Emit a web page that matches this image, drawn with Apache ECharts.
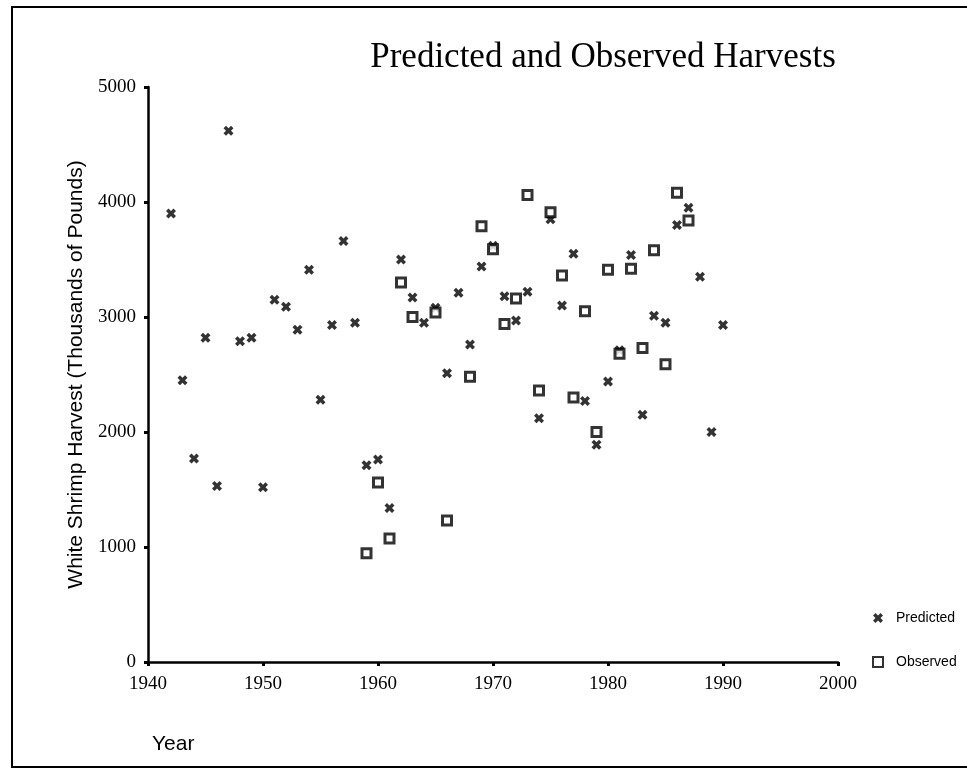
<!DOCTYPE html>
<html>
<head>
<meta charset="utf-8">
<script src="https://cdn.jsdelivr.net/npm/echarts@6/dist/echarts.min.js"></script>
<style>html,body{margin:0;padding:0;background:#fff}#c{width:967px;height:772px}</style>
</head>
<body>
<div id="c"></div>
<script>
const predYears = [1942,1943,1944,1945,1946,1947,1948,1949,1950,1951,1952,1953,1954,1955,1956,1957,1958,1959,1960,1961,1962,1963,1964,1965,1966,1967,1968,1969,1970,1971,1972,1973,1974,1975,1976,1977,1978,1979,1980,1981,1982,1983,1984,1985,1986,1987,1988,1989,1990];
const predValues = [3900,2450,1770,2820,1530,4620,2790,2820,1520,3150,3090,2890,3410,2280,2930,3660,2950,1710,1760,1340,3500,3170,2950,3080,2510,3210,2760,3440,3620,3180,2970,3220,2120,3850,3100,3550,2270,1890,2440,2710,3540,2150,3010,2950,3800,3950,3350,2000,2930];
const obsYears = [1959,1960,1961,1962,1963,1965,1966,1968,1969,1970,1971,1972,1973,1974,1975,1976,1977,1978,1979,1980,1981,1982,1983,1984,1985,1986,1987];
const obsValues = [945,1560,1075,3300,3000,3040,1230,2480,3790,3590,2940,3160,4060,2360,3910,3360,2300,3050,2000,3410,2680,3420,2730,3580,2590,4080,3840];
const xTicks = [1940,1950,1960,1970,1980,1990,2000];
const yTicks = [0,1000,2000,3000,4000,5000];

const xPath = 'path://M0,2.5 L2.5,0 L5,2.5 L7.5,0 L10,2.5 L7.5,5 L10,7.5 L7.5,10 L5,7.5 L2.5,10 L0,7.5 L2.5,5 Z';
const serif = '"Liberation Serif","Times New Roman",serif';
const sans = '"Liberation Sans",Arial,sans-serif';

const chart = echarts.init(document.getElementById('c'), null, {renderer:'canvas'});
chart.setOption({
  animation: false,
  backgroundColor: '#fff',
  title: {
    text: 'Predicted and Observed Harvests',
    left: 598, top: 35, textAlign: 'center',
    textStyle: {fontFamily: serif, fontSize: 35, fontWeight: 'normal', color: '#000'}
  },
  legend: {
    orient: 'vertical', left: 867, top: 606, itemGap: 30,
    itemWidth: 10, itemHeight: 10,
    textStyle: {fontFamily: sans, fontSize: 14, color: '#000', padding: [0, 0, 0, 8]},
    data: ['Predicted', 'Observed']
  },
  grid: {left: 148, right: 129, top: 87, bottom: 110},
  xAxis: {
    type: 'value', min: xTicks[0], max: xTicks[xTicks.length-1], interval: 10,
    name: 'Year', nameLocation: 'start', nameGap: 0,
    nameTextStyle: {fontFamily: sans, fontSize: 21, color: '#000', align: 'left', verticalAlign: 'top', padding: [72, 0, 0, 4]},
    axisLine: {lineStyle: {color: '#000', width: 2.5}},
    axisTick: {show: true, length: 4, lineStyle: {color: '#000', width: 3}},
    axisLabel: {fontFamily: serif, fontSize: 19, color: '#000', margin: 13, formatter: v => String(v)},
    splitLine: {show: false}
  },
  yAxis: {
    type: 'value', min: yTicks[0], max: yTicks[yTicks.length-1], interval: 1000,
    name: 'White Shrimp Harvest (Thousands of Pounds)', nameLocation: 'middle', nameGap: 34,
    nameTextStyle: {fontFamily: sans, fontSize: 21, color: '#000'},
    axisLine: {show: true, lineStyle: {color: '#000', width: 2.5}},
    axisTick: {show: true, length: 4, lineStyle: {color: '#000', width: 3}},
    axisLabel: {fontFamily: serif, fontSize: 19, color: '#000', margin: 12, formatter: v => String(v)},
    splitLine: {show: false}
  },
  graphic: [{
    type: 'rect', silent: true, z: -1,
    shape: {x: 12, y: 7, width: 1000, height: 760},
    style: {fill: 'none', stroke: '#000', lineWidth: 2}
  }],
  series: [
    {
      name: 'Predicted', type: 'scatter', symbol: xPath, symbolSize: 10,
      itemStyle: {color: '#000'},
      data: predYears.map((y, i) => [y, predValues[i]])
    },
    {
      name: 'Observed', type: 'scatter', symbol: 'rect', symbolSize: 9,
      itemStyle: {color: '#fff', borderColor: '#000', borderWidth: 3},
      data: obsYears.map((y, i) => [y, obsValues[i]])
    }
  ]
});
</script>
</body>
</html>
